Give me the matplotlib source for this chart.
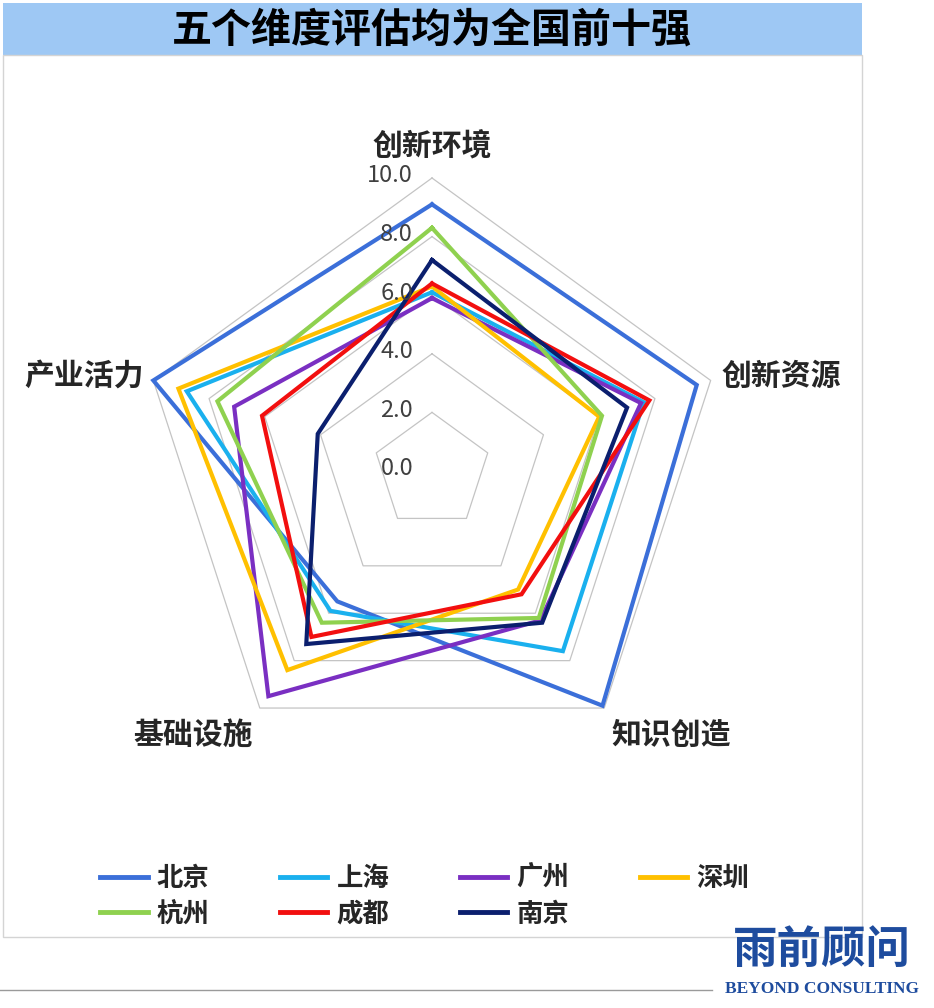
import numpy as np
import matplotlib
matplotlib.use("Agg")
import matplotlib.pyplot as plt
from matplotlib.patches import Rectangle
from matplotlib.lines import Line2D
import matplotlib.transforms as mtransforms

plt.rcParams['font.family'] = ['Noto Sans CJK SC', 'DejaVu Sans']

# ---------------- data ----------------
title = "五个维度评估均为全国前十强"
categories = ["创新环境", "创新资源", "知识创造", "基础设施", "产业活力"]
cities = ["北京", "上海", "广州", "深圳", "杭州", "成都", "南京"]
beijing   = [9.1, 9.5, 9.9, 5.5, 10.0]
shanghai  = [6.1, 7.6, 7.6, 5.9, 8.8]
guangzhou = [5.9, 7.5, 6.3, 9.5, 7.1]
shenzhen  = [6.3, 6.0, 5.0, 8.4, 9.1]
hangzhou  = [8.3, 6.1, 6.2, 6.4, 7.7]
chengdu   = [6.4, 7.8, 5.2, 7.0, 6.1]
nanjing   = [7.2, 7.0, 6.4, 7.3, 4.1]
series = [beijing, shanghai, guangzhou, shenzhen, hangzhou, chengdu, nanjing]
colors = ["#3B6FD9", "#1AB0EE", "#7A2FC2", "#FFC000", "#8FD14F", "#F20F0F", "#0B1F6E"]
ring_values = [0, 2, 4, 6, 8, 10]
ring_labels = ["0.0", "2.0", "4.0", "6.0", "8.0", "10.0"]

W, H = 934, 1008
fig = plt.figure(figsize=(W / 100, H / 100), dpi=100)
fig.patch.set_facecolor("white")

def fx(x):
    return x / W

def fy(y):
    return 1 - y / H

# title bar and chart frame
fig.patches.append(Rectangle((fx(3), fy(55)), fx(862) - fx(3), fy(3) - fy(55),
                             transform=fig.transFigure, facecolor="#9EC8F4",
                             edgecolor="none", zorder=0))
fig.patches.append(Rectangle((fx(3), fy(937)), fx(862) - fx(3), fy(55) - fy(937),
                             transform=fig.transFigure, facecolor="none",
                             edgecolor="#D4D4D4", lw=1.0, zorder=0))
fig.text(fx(432), fy(30), title, ha="center", va="center", fontsize=28.8,
         fontweight="heavy", color="#000000")

# radar axes
cx, cy, R = 432, 471, 293
ax = fig.add_axes([fx(cx - R), fy(cy + R), 2 * R / W, 2 * R / H], projection="polar")
ax.set_theta_offset(np.pi / 2)
ax.set_theta_direction(-1)
ax.set_ylim(0, 10)
ax.set_axis_off()

n = len(categories)
theta = np.linspace(0, 2 * np.pi, n, endpoint=False)
theta_c = np.concatenate([theta, theta[:1]])

for rv in ring_values[1:]:
    ax.plot(theta_c, [rv] * (n + 1), color="#C4C4C4", lw=0.9, zorder=1, clip_on=False)

for vals, col in zip(series, colors):
    v = list(vals) + [vals[0]]
    ax.plot(theta_c, v, color=col, lw=3.0, zorder=3, clip_on=False,
            solid_joinstyle="miter")

off = mtransforms.offset_copy(ax.transData, fig=fig, x=-19, y=2, units="dots")
for rv, lab in zip(ring_values, ring_labels):
    ax.text(0, rv, lab, transform=off, ha="right", va="center", fontsize=17,
            color="#404040", fontweight="light", zorder=5)

# category labels
label_pos = [(432, 146, "center"), (721, 376, "left"), (611, 735, "left"),
             (253, 735, "right"), (144, 376, "right")]
for cat, (x, y, ha) in zip(categories, label_pos):
    fig.text(fx(x), fy(y), cat, ha=ha, va="center", fontsize=21.5,
             fontweight="bold", color="#262626")

# legend (reordered so that matplotlib's column-wise fill reads row-wise)
handles = [Line2D([0], [0], color=c, lw=3.5) for c in colors]
order = [0, 4, 1, 5, 2, 6, 3]
leg = fig.legend([handles[i] for i in order], [cities[i] for i in order], ncol=4,
                 loc="upper left", bbox_to_anchor=(fx(100), fy(865)), frameon=False,
                 fontsize=19, handlelength=1.8, handletextpad=0.35,
                 columnspacing=2.67, labelspacing=0.33, borderpad=0,
                 borderaxespad=0)
for t in leg.get_texts():
    t.set_color("#262626")
    t.set_fontweight("bold")

# logo
fig.add_artist(Line2D([fx(0), fx(712)], [fy(990), fy(990)], transform=fig.transFigure,
                      color="#9A9A9A", lw=1.0))
fig.text(fx(822), fy(950), "雨前顾问", ha="center", va="center", fontsize=32,
         fontweight="bold", color="#1E4C9E")
fig.text(fx(822), fy(989), "BEYOND CONSULTING", ha="center", va="center", fontsize=12.5,
         fontweight="bold", color="#1E4C9E", family="Liberation Serif")

fig.savefig("out.png", dpi=100)
